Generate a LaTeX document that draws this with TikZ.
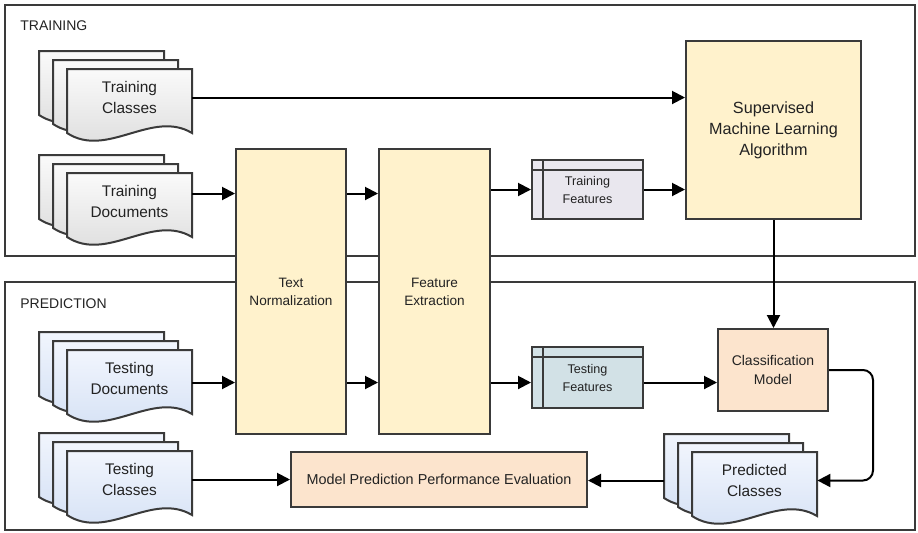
\documentclass[tikz,border=0pt]{standalone}
\usepackage{fontspec}
\setmainfont{Liberation Sans}
\usetikzlibrary{arrows.meta,positioning}

\definecolor{edgegray}{HTML}{3A3A3A}
\definecolor{textgray}{HTML}{222222}
\definecolor{boxyellow}{HTML}{FFF2CC}
\definecolor{boxpeach}{HTML}{FCE4CD}
\definecolor{grayhi}{HTML}{FAFAFA}
\definecolor{graylo}{HTML}{DADADA}
\definecolor{bluehi}{HTML}{F1F5FD}
\definecolor{bluelo}{HTML}{D2DFF4}
\definecolor{featgray}{HTML}{E9E7EE}
\definecolor{featblue}{HTML}{D2E1E6}

\tikzset{
  boxline/.style={draw=edgegray, line width=1pt},
  procbox/.style={boxline, fill=boxyellow, text=textgray, align=center, inner sep=0pt},
  resultbox/.style={boxline, fill=boxpeach, text=textgray, align=center, inner sep=0pt},
  featbox/.style={boxline, text=textgray, align=center, inner sep=0pt,
    minimum width=55.5pt, font=\fontsize{6.3}{9}\selectfont,
    path picture={
      \draw[edgegray, line width=1.3pt]
        ([xshift=5.5pt]path picture bounding box.north west) -- ([xshift=5.5pt]path picture bounding box.south west)
        ([yshift=-5pt]path picture bounding box.north west) -- ([yshift=-5pt]path picture bounding box.north east);}},
  docpage/.style={boxline},
  doctext/.style={text=textgray, align=center, inner sep=0pt, minimum width=62.5pt,
    font=\fontsize{7.7}{10.5}\selectfont},
  flow/.style={draw=black, line width=1pt, -{Triangle[length=6.5pt,width=6.5pt]}},
  frame/.style={draw=edgegray, line width=1pt},
  framelabel/.style={text=textgray, anchor=base west, inner sep=0pt, font=\fontsize{7}{8}\selectfont}
}

% stack of three pages: name, front top left, text, top colour, bottom colour
\newcommand{\docstack}[5]{%
  \begin{scope}[shift={#2}]
    \foreach \dx/\dy in {28/18,14/9,0/0}
      \draw[docpage, top color=#4, bottom color=#5, shift={(-\dx,-\dy)}]
        (0,0) -- (125,0) -- (125,64) .. controls (85,40) and (40,90) .. (0,64) -- cycle;
    \node[doctext] (#1) at (62.5,28.5) {#3};
  \end{scope}}

\begin{document}
\begin{tikzpicture}[x=0.5pt, y=-0.5pt]
\useasboundingbox (0,0) rectangle (918,532);

% frames
\draw[frame] (5,5) rectangle (915,256);
\draw[frame] (5,282) rectangle (915,530);
\node[framelabel] (trainlabel) at (20,30) {TRAINING};
\node[framelabel] (predlabel) at (20,308) {PREDICTION};

% documents
\docstack{trcls}{(67,69)}{Training\\Classes}{grayhi}{graylo}
\docstack{trdocs}{(67,173)}{Training\\Documents}{grayhi}{graylo}
\docstack{tsdocs}{(67,350)}{Testing\\Documents}{bluehi}{bluelo}
\docstack{tscls}{(67,451)}{Testing\\Classes}{bluehi}{bluelo}
\docstack{predcls}{(692,452)}{Predicted\\Classes}{bluehi}{bluelo}

% process boxes
\node[procbox, minimum width=55pt, minimum height=142.5pt, font=\fontsize{6.8}{9}\selectfont] (textnorm) at (291,291.5) {Text\\Normalization};
\node[procbox, minimum width=55.5pt, minimum height=142.5pt, font=\fontsize{6.8}{9}\selectfont] (featext) at (434.5,291.5) {Feature\\Extraction};
\node[procbox, minimum width=87.5pt, minimum height=89pt, font=\fontsize{8.1}{10.5}\selectfont] (mlalgo) at (773.5,130) {Supervised\\Machine Learning\\Algorithm};
\node[featbox, fill=featgray, minimum height=29.5pt] (trainfeat) at (587.5,189.5) {Training\\Features};
\node[featbox, fill=featblue, minimum height=30.5pt] (testfeat) at (587.5,377.5) {Testing\\Features};
\node[resultbox, minimum width=55pt, minimum height=41pt, font=\fontsize{7}{9.5}\selectfont] (clfmodel) at (773,370) {Classification\\Model};
\node[resultbox, minimum width=148pt, minimum height=27.5pt, font=\fontsize{7.2}{9}\selectfont] (evalbox) at (439,479.5) {Model Prediction Performance Evaluation};

% training flow
\draw[flow] (trcls.east) -- (trcls.east -| mlalgo.west);
\coordinate (trrow) at ([yshift=4pt]trdocs.east);
\draw[flow] (trrow) -- (trrow -| textnorm.west);
\draw[flow] (trrow -| textnorm.east) -- (trrow -| featext.west);
\draw[flow] (trainfeat.west -| featext.east) -- (trainfeat.west);
\draw[flow] (trainfeat.east) -- (trainfeat.east -| mlalgo.west);
\draw[flow] (mlalgo.south) -- (mlalgo.south |- clfmodel.north);

% prediction flow
\coordinate (tsrow) at ([yshift=-2pt]tsdocs.east);
\draw[flow] (tsrow) -- (tsrow -| textnorm.west);
\draw[flow] (tsrow -| textnorm.east) -- (tsrow -| featext.west);
\draw[flow] (tsrow -| featext.east) -- (tsrow -| testfeat.west);
\draw[flow] (tsrow -| testfeat.east) -- (tsrow -| clfmodel.west);
\draw[flow, rounded corners=5pt] (clfmodel.east) -- ([xshift=22pt]clfmodel.east) |- (predcls.east);
\draw[flow] ([xshift=-14pt]predcls.west) -- (predcls.west -| evalbox.east);
\draw[flow] (tscls.east) -- (tscls.east -| evalbox.west);
\end{tikzpicture}
\end{document}
